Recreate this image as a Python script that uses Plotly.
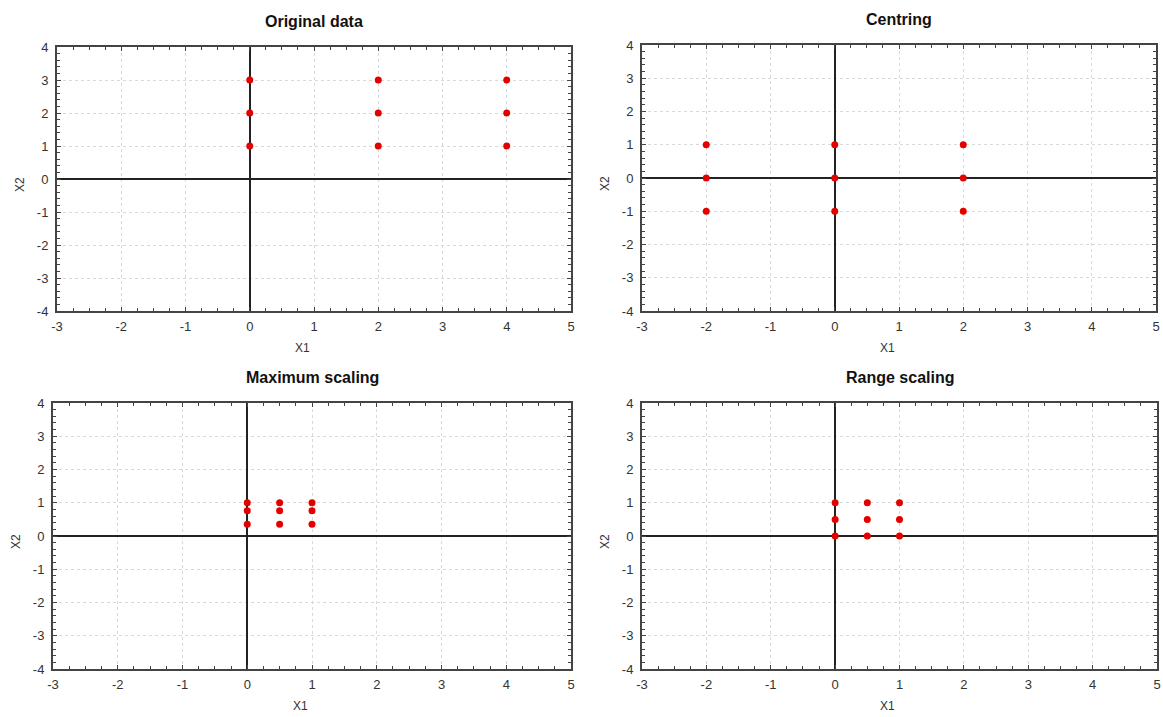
import plotly.graph_objects as go

# ---- data ----
titles = ["Original data", "Centring", "Maximum scaling", "Range scaling"]
orig_x = [0, 0, 0, 2, 2, 2, 4, 4, 4]
orig_y = [1, 2, 3, 1, 2, 3, 1, 2, 3]
cent_x = [-2, -2, -2, 0, 0, 0, 2, 2, 2]
cent_y = [-1, 0, 1, -1, 0, 1, -1, 0, 1]
max_x = [0, 0, 0, 0.5, 0.5, 0.5, 1, 1, 1]
max_y = [0.35, 0.76, 1, 0.35, 0.76, 1, 0.35, 0.76, 1]
range_x = [0, 0, 0, 0.5, 0.5, 0.5, 1, 1, 1]
range_y = [0, 0.5, 1, 0, 0.5, 1, 0, 0.5, 1]
x_ticks = [-3, -2, -1, 0, 1, 2, 3, 4, 5]
y_ticks = [-4, -3, -2, -1, 0, 1, 2, 3, 4]

W, H = 1163, 717
series = [(orig_x, orig_y), (cent_x, cent_y), (max_x, max_y), (range_x, range_y)]
# plot-area pixel boxes (left, right, top, bottom)
boxes = [(57, 571, 47, 311), (642, 1156, 45, 311), (53, 571, 403, 669), (642, 1157, 403, 669)]

fig = go.Figure()
font_family = "Liberation Sans, Arial, sans-serif"
annotations = []

for i, ((xs, ys), (l, r, t, b), title) in enumerate(zip(series, boxes, titles)):
    n = "" if i == 0 else str(i + 1)
    fig.add_trace(go.Scatter(
        x=xs, y=ys, mode="markers",
        marker=dict(color="#e50000", size=7),
        xaxis="x" + n, yaxis="y" + n, showlegend=False, hoverinfo="x+y"))
    axis_common = dict(
        showline=True, linecolor="#444", linewidth=2, mirror="ticks",
        ticks="inside", ticklen=4, tickcolor="#444", tickwidth=1,
        showgrid=True, gridcolor="#d9d9d9", griddash="dot", gridwidth=1,
        zeroline=True, zerolinecolor="#222", zerolinewidth=1.5,
        tickfont=dict(family=font_family, size=13, color="#333"),
        fixedrange=True, automargin=False,
    )
    fig.layout["xaxis" + n] = dict(
        axis_common, domain=[l / W, r / W], anchor="y" + n,
        range=[-3, 5], tickvals=x_ticks, ticktext=[str(v) for v in x_ticks],
        ticklabelstandoff=2,
        minor=dict(dtick=0.25, ticks="inside", ticklen=3, tickcolor="#444", showgrid=False),
    )
    fig.layout["yaxis" + n] = dict(
        axis_common, domain=[1 - b / H, 1 - t / H], anchor="x" + n,
        range=[-4, 4], tickvals=y_ticks, ticktext=[str(v) for v in y_ticks],
        ticklabelstandoff=4,
        minor=dict(dtick=0.2, ticks="inside", ticklen=3, tickcolor="#444", showgrid=False),
    )
    cx = (l + r) / 2
    annotations.append(dict(text="<b>" + title + "</b>", x=(cx + 0) / W, y=1 - (t - 26) / H,
                            xref="paper", yref="paper", showarrow=False,
                            font=dict(family=font_family, size=16, color="#111"),
                            xanchor="center", yanchor="middle"))
    annotations.append(dict(text="X1", x=(cx - 12) / W, y=1 - (b + 37) / H,
                            xref="paper", yref="paper", showarrow=False,
                            font=dict(family=font_family, size=12, color="#333"),
                            xanchor="center", yanchor="middle"))
    annotations.append(dict(text="X2", x=(l - 37) / W, y=1 - ((t + b) / 2 + 6) / H,
                            xref="paper", yref="paper", showarrow=False, textangle=-90,
                            font=dict(family=font_family, size=12, color="#333"),
                            xanchor="center", yanchor="middle"))

fig.update_layout(
    width=W, height=H, margin=dict(l=0, r=0, t=0, b=0),
    paper_bgcolor="white", plot_bgcolor="white",
    annotations=annotations,
)
fig.write_html("out.html")
